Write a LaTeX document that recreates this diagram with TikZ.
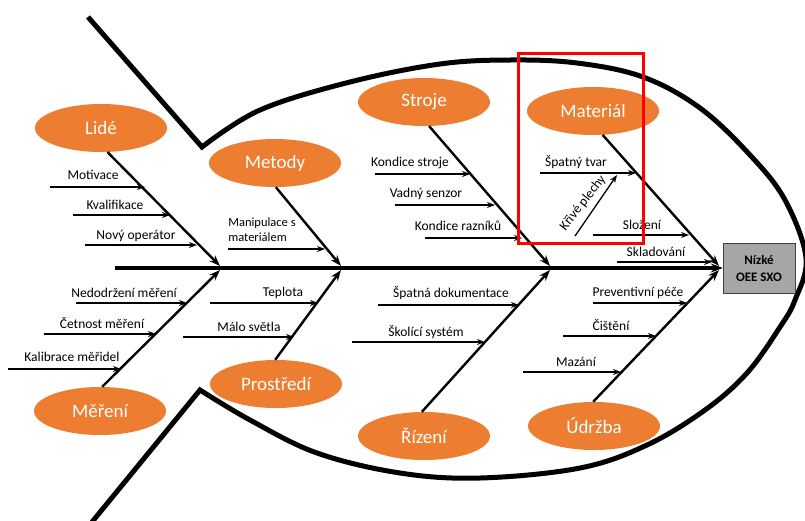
\documentclass[tikz,border=0pt]{standalone}
\usepackage{fontspec}
\setmainfont{Carlito}
\usetikzlibrary{shapes.geometric,arrows.meta}
\definecolor{fishorange}{HTML}{ED7D31}
\tikzstyle{category} = [ellipse, fill=fishorange, text=white, inner sep=0pt, minimum width=132pt, minimum height=48pt, font={\fontsize{19}{21}\selectfont}]
\tikzstyle{cause} = [inner sep=0pt, font={\fontsize{13.5}{15}\selectfont}]
\tikzstyle{effect} = [draw=gray!50!black, fill=gray!70, rectangle, align=center, minimum width=72pt, minimum height=50pt, font={\bfseries\fontsize{13}{17}\selectfont}]
\tikzstyle{outline} = [line width=5pt]
\tikzstyle{spine} = [line width=3.5pt, -{Stealth[length=12pt,width=9pt]}]
\tikzstyle{bone} = [line width=2.4pt, -{Stealth[length=11pt,width=8pt]}]
\tikzstyle{subbone} = [line width=1.3pt, -{Stealth[length=8pt,width=6pt]}]

\begin{document}
\begin{tikzpicture}[x=1pt,y=-1pt]
  \useasboundingbox (0,0) rectangle (805,520);
  \draw[outline] (88,17) -- (202,147) -- plot[smooth,tension=0.6] coordinates {(202,147) (260,110) (350,82) (440,64) (510,60) (577,63) (643,77) (700,108) (750,155) (785,200) (806,258) (795,300) (780,327) (747,373) (705,410) (647,445) (580,468) (480,478) (400,473) (317,453) (250,420) (200,390)} -- (92,522);

  \node[effect](sxo) at (759,268){N\'izk\'e\\OEE SXO};
  \coordinate (tail) at (115,268);
  \draw[spine](tail)--(sxo.west);

  \node[category](lide) at (101,128){Lidé};
  \node[category](metody) at (275,163){Metody};
  \node[category](stroje) at (424,102){Stroje};
  \node[category](material) at (593,111){Materiál};
  \node[category](mereni) at (100,411){Měření};
  \node[category](prostredi) at (276,384){Prostředí};
  \node[category](rizeni) at (424,436){Řízení};
  \node[category](udrzba) at (594,426){Údržba};

  \coordinate (jl) at (220,266);
  \coordinate (jm) at (341,266);
  \coordinate (js) at (550,266);
  \coordinate (jmat) at (719,266);
  \coordinate (jme) at (220,270);
  \coordinate (jp) at (341,270);
  \coordinate (jr) at (550,270);
  \coordinate (ju) at (719,270);
  \draw[bone](lide.-75)--(jl);
  \draw[bone](metody.-88)--(jm);
  \draw[bone](stroje.-78)--(js);
  \draw[bone](material.-68)--(jmat);
  \draw[bone](mereni.85)--(jme);
  \draw[bone](prostredi.92)--(jp);
  \draw[bone](rizeni.95)--(jr);
  \draw[bone](udrzba.92)--(ju);

  \node[cause](mot) at (93,175){Motivace};
  \node[cause](kval) at (115,205){Kvalifikace};
  \node[cause](novy) at (136,236){Nový operátor};
  \coordinate (mot-s) at (50,187);   \coordinate (mot-e) at (145,187);
  \coordinate (kval-s) at (73,215);  \coordinate (kval-e) at (170,215);
  \coordinate (novy-s) at (85,245);  \coordinate (novy-e) at (197,245);
  \draw[subbone](mot-s)--(mot-e);
  \draw[subbone](kval-s)--(kval-e);
  \draw[subbone](novy-s)--(novy-e);

  \node[cause,align=left,font={\fontsize{12.5}{15}\selectfont}](manip) at (262,230){Manipulace s\\materiálem};
  \coordinate (manip-s) at (228,249); \coordinate (manip-e) at (325,249);
  \draw[subbone](manip-s)--(manip-e);

  \node[cause](ks) at (410,163){Kondice stroje};
  \node[cause](vs) at (426,194){Vadný senzor};
  \node[cause](kr) at (458,226){Kondice razníků};
  \coordinate (ks-s) at (375,174); \coordinate (ks-e) at (470,174);
  \coordinate (vs-s) at (395,205); \coordinate (vs-e) at (495,205);
  \coordinate (kr-s) at (425,238); \coordinate (kr-e) at (522,238);
  \draw[subbone](ks-s)--(ks-e);
  \draw[subbone](vs-s)--(vs-e);
  \draw[subbone](kr-s)--(kr-e);

  \node[cause](st) at (576,162){Špatný tvar};
  \node[cause](sl) at (642,225){Složení};
  \node[cause](sk) at (656,252){Skladování};
  \coordinate (st-s) at (540,173); \coordinate (st-e) at (636,173);
  \coordinate (sl-s) at (593,235); \coordinate (sl-e) at (689,235);
  \coordinate (sk-s) at (617,262); \coordinate (sk-e) at (712,262);
  \draw[subbone](st-s)--(st-e);
  \draw[subbone](sl-s)--(sl-e);
  \draw[subbone](sk-s)--(sk-e);
  \node[cause,rotate=52](kp) at (583,203){Křivé plechy};
  \coordinate (kp-s) at (575,236); \coordinate (kp-e) at (617,175);
  \draw[subbone](kp-s)--(kp-e);

  \node[cause](ned) at (124,293){Nedodržení měření};
  \node[cause](cet) at (102,323){Četnost měření};
  \node[cause](kal) at (72,357){Kalibrace měřidel};
  \coordinate (ned-s) at (76,303); \coordinate (ned-e) at (187,303);
  \coordinate (cet-s) at (44,334); \coordinate (cet-e) at (156,334);
  \coordinate (kal-s) at (8,369);  \coordinate (kal-e) at (121,369);
  \draw[subbone](ned-s)--(ned-e);
  \draw[subbone](cet-s)--(cet-e);
  \draw[subbone](kal-s)--(kal-e);

  \node[cause](tep) at (283,293){Teplota};
  \node[cause](mal) at (249,327){Málo světla};
  \coordinate (tep-s) at (210,303); \coordinate (tep-e) at (318,303);
  \coordinate (mal-s) at (183,337); \coordinate (mal-e) at (294,337);
  \draw[subbone](tep-s)--(tep-e);
  \draw[subbone](mal-s)--(mal-e);

  \node[cause](spd) at (451,293){Špatná dokumentace};
  \node[cause](sks) at (426,332){Školící systém};
  \coordinate (spd-s) at (378,305); \coordinate (spd-e) at (519,305);
  \coordinate (sks-s) at (352,342); \coordinate (sks-e) at (485,342);
  \draw[subbone](spd-s)--(spd-e);
  \draw[subbone](sks-s)--(sks-e);

  \node[cause](pp) at (638,293){Preventivní péče};
  \node[cause](ci) at (611,325){Čištění};
  \node[cause](mz) at (576,362){Mazání};
  \coordinate (pp-s) at (593,303); \coordinate (pp-e) at (687,303);
  \coordinate (ci-s) at (563,336); \coordinate (ci-e) at (656,336);
  \coordinate (mz-s) at (523,372); \coordinate (mz-e) at (621,372);
  \draw[subbone](pp-s)--(pp-e);
  \draw[subbone](ci-s)--(ci-e);
  \draw[subbone](mz-s)--(mz-e);

  \draw[red,line width=3pt] (518,53) rectangle (643,243);
\end{tikzpicture}
\end{document}
